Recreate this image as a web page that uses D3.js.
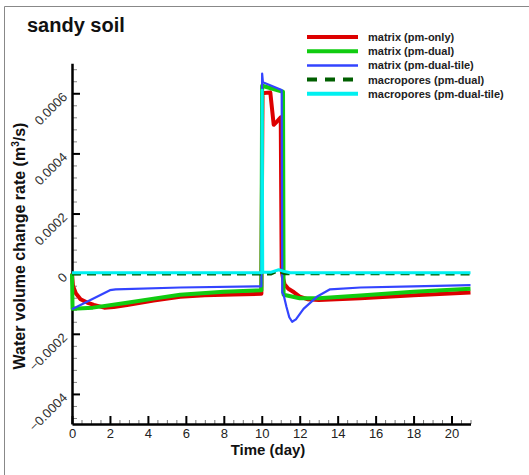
<!DOCTYPE html>
<html>
<head>
<meta charset="utf-8">
<script src="https://cdn.jsdelivr.net/npm/d3@7"></script>
<style>
  body { margin: 0; background: #fff; }
  svg { display: block; font-family: "Liberation Sans", Arial, sans-serif; }
</style>
</head>
<body>
<svg id="chart" width="529" height="475"></svg>
<script>
// time (day), water volume change rate (m3/s)
var matrixPmOnly = [
  [0, 0], [0.05, -0.00004], [0.2, -0.000065], [0.45, -0.000085], [0.8, -0.000096],
  [1.15, -0.000104], [1.7, -0.000113], [2.2, -0.000111], [2.9, -0.000104], [4.3, -0.000089],
  [5.7, -0.000077], [7, -0.000072], [8.5, -0.000069], [9.98, -0.000067],
  [10.04, 0.0006], [10.45, 0.000603], [10.63, 0.000495], [10.8, 0.000506], [11.0, 0.00052],
  [11.05, 0.00001], [11.12, -0.000015], [11.2, -0.000035], [11.4, -0.00005], [11.7, -0.000062],
  [12.0, -0.000076], [12.4, -0.000085], [13, -0.000088], [15.2, -0.000082], [18, -0.000072], [21, -0.000063]
]
var matrixPmDual = [
  [0, 0], [0.03, -0.000117], [1.1, -0.000113], [2.9, -0.000097], [4.3, -0.000083],
  [5.7, -0.00007], [8, -0.00006], [9.98, -0.000055],
  [10.02, 0.000625], [11.12, 0.000605], [11.15, -0.00007], [12, -0.000082], [13, -0.000082],
  [15.2, -0.000073], [18, -0.00006], [21, -0.00005]
]
var matrixPmDualTile = [
  [0, -0.000118], [1, -0.000087], [2, -0.000055], [2.3, -0.000052], [5.7, -0.000046],
  [9.98, -0.000042], [10.02, 0.000665], [10.06, 0.000637], [11.05, 0.000611],
  [11.08, -0.000063], [11.15, -0.00007], [11.3, -0.00011], [11.45, -0.000145], [11.6, -0.00016],
  [11.8, -0.000152], [12.2, -0.000117], [12.9, -0.000077], [13.6, -0.000052], [15.2, -0.000046],
  [18, -0.000042], [21, -0.000038]
]
var macroPmDual = [
  [0, -0.000001], [10.5, -0.000001], [10.85, 0.00001], [11.2, 0], [21, -0.000001]
]
var macroPmDualTile = [
  [0, 0.000003], [10.0, 0.000003], [10.02, 0.00061], [10.05, 0.000005], [10.5, 0.000005],
  [10.9, 0.000013], [11.2, 0.000007], [11.5, 0.000003], [21, 0.000003]
]

var seriesNames = ['matrix (pm-only)', 'matrix (pm-dual)', 'matrix (pm-dual-tile)', 'macropores (pm-dual)', 'macropores (pm-dual-tile)']
var seriesData = [matrixPmOnly, matrixPmDual, matrixPmDualTile, macroPmDual, macroPmDualTile]
var seriesColors = ['#dd0000', '#11cc11', '#3344ff', '#005f00', '#00f0f0']
var seriesWidths = [4, 4, 2.2, 3, 3]
var seriesDash = [null, null, null, '9,6', null]

var xMajorTicks = [0, 2, 4, 6, 8, 10, 12, 14, 16, 18, 20]
var yMajorTicks = [-0.0004, -0.0002, 0, 0.0002, 0.0004, 0.0006]

var svg = d3.select('#chart')

// frame
svg.append('path')
  .attr('d', 'M4.5,475V6.5H529')
  .attr('fill', 'none')
  .attr('stroke', '#888')
  .attr('stroke-width', 1)

var x = d3.scaleLinear().domain([0, 21]).range([72, 470.5])
var y = d3.scaleLinear().domain([-0.0005, 0.0007]).range([424, 63.2])

// minor ticks
var xMinor = d3.range(0, 43).map(i => i * 0.5).filter(d => d % 2 !== 0)
var yMinor = d3.range(-24, 35, 2).map(i => i * 0.00002).filter(d => !yMajorTicks.some(m => Math.abs(m - d) < 1e-9))

svg.append('g')
  .attr('transform', 'translate(0,' + y(-0.0005) + ')')
  .call(d3.axisBottom(x).tickValues(xMinor).tickSize(-4).tickFormat('').tickSizeOuter(0))
  .call(g => g.select('.domain').remove())
  .call(g => g.selectAll('line').attr('stroke', '#777').attr('stroke-width', 1))

svg.append('g')
  .attr('transform', 'translate(' + x(0) + ',0)')
  .call(d3.axisLeft(y).tickValues(yMinor).tickSize(-5).tickFormat('').tickSizeOuter(0))
  .call(g => g.select('.domain').remove())
  .call(g => g.selectAll('line').attr('stroke', '#888').attr('stroke-width', 1))

// x axis
var xAxis = svg.append('g')
  .attr('transform', 'translate(0,' + y(-0.0005) + ')')
  .call(d3.axisBottom(x).tickValues(xMajorTicks).tickSize(-8).tickSizeOuter(0).tickPadding(5))
xAxis.select('.domain').attr('stroke', '#000').attr('stroke-width', 2.5)
xAxis.selectAll('line').attr('stroke', '#000').attr('stroke-width', 2)
xAxis.selectAll('text')
  .attr('y', 14)
  .attr('dy', 0)
  .attr('fill', '#222')
  .style('font-size', '13px')

// y axis
var yAxis = svg.append('g')
  .attr('transform', 'translate(' + x(0) + ',0)')
  .call(d3.axisLeft(y).tickValues(yMajorTicks).tickSize(-8).tickSizeOuter(0)
    .tickFormat(d => d === 0 ? '0' : d3.format('.4f')(d)))
yAxis.select('.domain').attr('stroke', '#000').attr('stroke-width', 2.5)
yAxis.selectAll('line').attr('stroke', '#000').attr('stroke-width', 2)
yAxis.selectAll('text')
  .attr('x', null)
  .attr('dy', null)
  .attr('text-anchor', 'end')
  .attr('transform', 'translate(-4,4) rotate(-45)')
  .attr('fill', '#333')
  .style('font-size', '13px')

// lines
var line = d3.line().x(d => x(d[0])).y(d => y(d[1]))

seriesData.forEach((s, i) => {
  svg.append('path')
    .datum(s)
    .attr('fill', 'none')
    .attr('stroke', seriesColors[i])
    .attr('stroke-width', seriesWidths[i])
    .attr('stroke-dasharray', seriesDash[i])
    .attr('stroke-linejoin', 'round')
    .attr('d', line)
})

// title
svg.append('text')
  .attr('x', 27)
  .attr('y', 32)
  .style('font-size', '20px')
  .style('font-weight', 'bold')
  .attr('fill', '#111')
  .text('sandy soil')

// axis labels
svg.append('text')
  .attr('x', 268)
  .attr('y', 455)
  .attr('text-anchor', 'middle')
  .style('font-size', '15px')
  .style('font-weight', 'bold')
  .attr('fill', '#111')
  .text('Time (day)')

var yl = svg.append('text')
  .attr('transform', 'translate(25,246) rotate(-90)')
  .attr('text-anchor', 'middle')
  .style('font-size', '16px')
  .style('font-weight', 'bold')
  .attr('fill', '#111')
yl.append('tspan').text('Water volume change rate (m')
yl.append('tspan').attr('dy', -6).style('font-size', '10px').text('3')
yl.append('tspan').attr('dy', 6).text('/s)')

// legend
var legend = svg.append('g').attr('transform', 'translate(307,37)')
var rows = legend.selectAll('g').data(seriesNames).join('g')
  .attr('transform', (d, i) => 'translate(0,' + i * 14.2 + ')')
rows.append('line')
  .attr('x1', 0).attr('x2', 51)
  .attr('stroke', (d, i) => seriesColors[i])
  .attr('stroke-width', (d, i) => i === 2 ? 2.5 : 4)
  .attr('stroke-dasharray', (d, i) => i === 3 ? '10,8' : null)
rows.append('text')
  .attr('x', 61)
  .attr('y', 4)
  .style('font-size', '11px')
  .style('font-weight', 'bold')
  .attr('fill', '#222')
  .text(d => d)
</script>
</body>
</html>
